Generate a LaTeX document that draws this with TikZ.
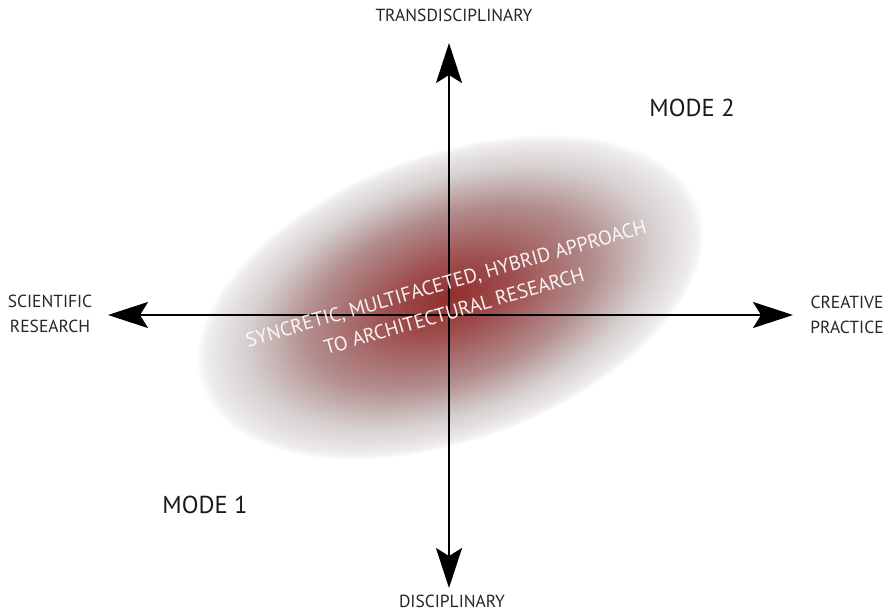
\documentclass[tikz,border=0pt]{standalone}
\usepackage{fontspec}
\setmainfont{PT Sans}
\usetikzlibrary{arrows.meta}

\definecolor{blobcore}{RGB}{146,46,46}
\definecolor{blobred}{RGB}{158,78,78}
\definecolor{blobmauve}{RGB}{178,140,140}
\definecolor{blobgrey}{RGB}{214,207,207}
\definecolor{blobedge}{RGB}{238,236,236}
\pgfdeclareradialshading{blob}{\pgfpoint{0bp}{0bp}}{color(0bp)=(blobcore); color(6bp)=(blobred); color(14bp)=(blobmauve); color(20bp)=(blobgrey); color(24bp)=(blobedge); color(25bp)=(white); color(50bp)=(white)}

\begin{document}
\begin{tikzpicture}[x=1pt,y=1pt,
    axis/.style={line width=2pt,
      {Stealth[length=40pt,width=26pt,inset=8pt]}-{Stealth[length=40pt,width=26pt,inset=8pt]}},
    label/.style={font=\fontsize{17.5}{25}\selectfont, align=center, text=black!85, inner sep=0pt},
    mode/.style={font=\fontsize{24.5}{28}\selectfont, text=black!90, inner sep=0pt}]
    \useasboundingbox (0,0) rectangle (893,614);
    % shaded region
    \begin{scope}[transform canvas={shift={(450,317)},rotate=20}]
        \shade[shading=blob] (0,0) ellipse (265 and 144);
    \end{scope}
    % axes
    \coordinate (west) at (108,299);
    \coordinate (east) at (793,299);
    \coordinate (north) at (449,571);
    \coordinate (south) at (449,26);
    \draw[axis] (west) -- (east);
    \draw[axis] (south) -- (north);
    % labels
    \node[label] (trans) at (454,599) {TRANSDISCIPLINARY};
    \node[label] (disc) at (452,13) {DISCIPLINARY};
    \node[label] (sci) at (50,300) {SCIENTIFIC\\RESEARCH};
    \node[label] (crea) at (847,299) {CREATIVE\\PRACTICE};
    \node[mode] (mtwo) at (692,506) {MODE 2};
    \node[mode] (mone) at (205,109) {MODE 1};
    \node[rotate=16, text=white, opacity=0.92, align=center, inner sep=0pt,
          font=\fontsize{20}{29}\selectfont] (blobtext) at (450,317)
          {SYNCRETIC, MULTIFACETED, HYBRID APPROACH\\TO ARCHITECTURAL RESEARCH};
\end{tikzpicture}
\end{document}
